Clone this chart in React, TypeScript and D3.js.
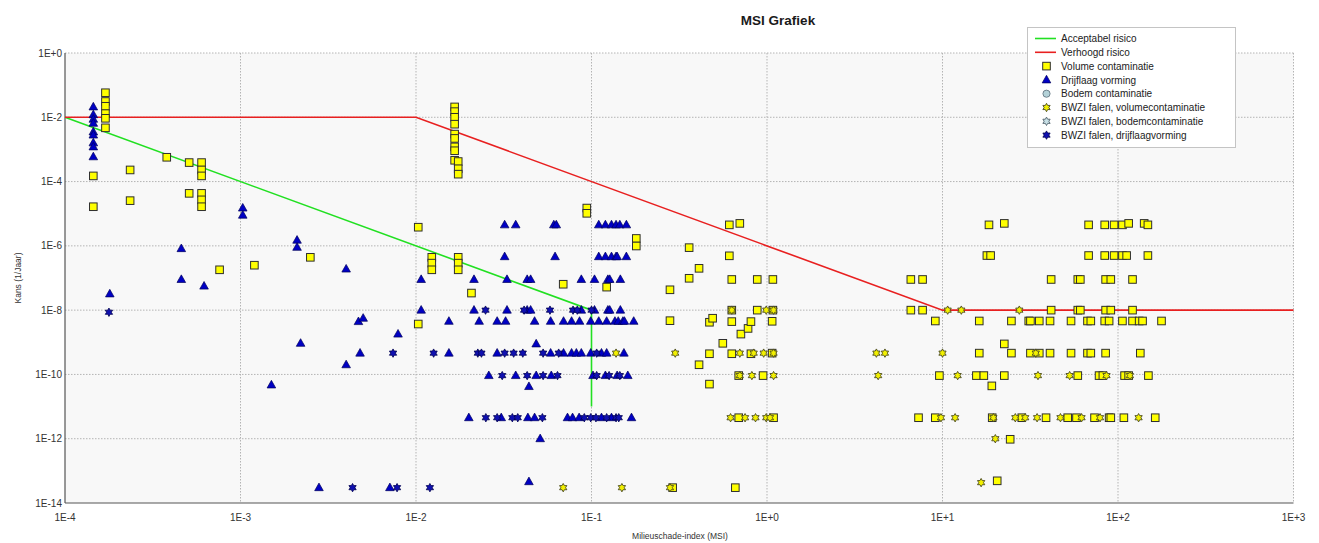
import React from "react";
import * as d3 from "d3";

// MSI grafiek: kans (1/jaar) tegen milieuschade-index, beide as log-schaal
const X_TICKS = [1e-4, 1e-3, 1e-2, 1e-1, 1e0, 1e1, 1e2, 1e3];
const X_LABELS = ["1E-4", "1E-3", "1E-2", "1E-1", "1E+0", "1E+1", "1E+2", "1E+3"];
const Y_TICKS = [1, 1e-2, 1e-4, 1e-6, 1e-8, 1e-10, 1e-12, 1e-14];
const Y_LABELS = ["1E+0", "1E-2", "1E-4", "1E-6", "1E-8", "1E-10", "1E-12", "1E-14"];

const ACCEPTABEL = [[1e-4, 1e-2], [1e-1, 1e-8], [1e-1, 1e-11]];
const VERHOOGD = [[1e-4, 1e-2], [1e-2, 1e-2], [10, 1e-8], [1e3, 1e-8]];

const VOLUME = [
  [1.7e-4, 5.8e-2], [1.7e-4, 3.1e-2], [1.7e-4, 2.2e-2], [1.7e-4, 1.3e-2], [1.7e-4, 9.3e-3], [1.7e-4, 4.7e-3],
  [1.45e-4, 1.5e-4], [1.45e-4, 1.65e-5], [2.35e-4, 2.3e-4], [2.35e-4, 2.55e-5], [3.8e-4, 5.7e-4],
  [5.1e-4, 3.9e-4], [5.1e-4, 4.3e-5], [6.0e-4, 3.9e-4], [6.0e-4, 2.3e-4], [6.0e-4, 1.5e-4],
  [6.0e-4, 4.3e-5], [6.0e-4, 2.7e-5], [6.0e-4, 1.65e-5],
  [7.6e-4, 1.8e-7], [1.2e-3, 2.5e-7], [2.5e-3, 4.4e-7],
  [1.03e-2, 3.8e-6], [1.03e-2, 3.7e-9],
  [1.23e-2, 4.4e-7], [1.23e-2, 2.9e-7], [1.23e-2, 1.8e-7],
  [1.74e-2, 4.4e-7], [1.74e-2, 2.9e-7], [1.74e-2, 1.8e-7],
  [1.66e-2, 2.1e-2], [1.66e-2, 1.5e-2], [1.66e-2, 1.0e-2], [1.66e-2, 6.1e-3], [1.66e-2, 3.0e-3],
  [1.66e-2, 2.2e-3], [1.66e-2, 1.2e-3], [1.66e-2, 9.1e-4], [1.66e-2, 4.6e-4],
  [1.74e-2, 4.2e-4], [1.74e-2, 2.5e-4], [1.74e-2, 1.7e-4],
  [2.07e-2, 3.4e-8], [6.9e-2, 6.4e-8], [9.4e-2, 1.5e-5], [9.4e-2, 1.03e-5],
  [0.122, 5.2e-8], [0.18, 1.7e-6], [0.18, 9.9e-7], [0.28, 4.3e-8], [0.28, 4.7e-9],
  [0.36, 8.8e-7], [0.36, 9.8e-8], [0.41, 2.0e-7], [0.41, 2.0e-10],
  [0.47, 4.2e-9], [0.47, 4.4e-10], [0.47, 5e-11], [0.49, 5.6e-9], [0.56, 9.3e-10],
  [0.61, 4.5e-6], [0.61, 4.9e-7], [0.70, 5.0e-6],
  [0.63, 9e-8], [0.63, 1e-8], [0.63, 4.4e-9], [0.63, 4.4e-10],
  [0.71, 1.8e-9], [0.78, 2.7e-9], [0.81, 4.4e-9], [0.81, 4.4e-10],
  [0.69, 9.2e-11], [0.69, 4.5e-12], [0.66, 3e-14], [0.29, 3e-14],
  [0.88, 9e-8], [0.88, 1e-8], [0.95, 9.2e-11],
  [1.08, 9e-8], [1.08, 1e-8], [1.07, 4.5e-9], [1.07, 4.6e-10], [1.09, 4.5e-12],
  [6.6, 9e-8], [6.6, 1e-8], [7.7, 9e-8], [7.7, 1e-8], [9.1, 4.6e-9], [9.1, 4.5e-12], [7.3, 4.5e-12],
  [9.6, 9.2e-11],
  [16.2, 4.6e-9], [16.2, 4.6e-10], [15.6, 9.2e-11], [17.2, 9.2e-11],
  [17.9, 5e-7], [18.8, 5e-7], [18.4, 4.5e-6], [22.5, 5e-6], [22.5, 8.9e-10], [22.5, 9.2e-11],
  [19.1, 4.4e-11], [19.2, 4.5e-12], [24.3, 9.6e-13], [20.5, 4.9e-14],
  [24.7, 4.6e-9], [24.7, 4.6e-10], [28.3, 4.5e-12],
  [31, 4.6e-9], [31.7, 4.6e-9], [31.7, 4.6e-10],
  [35.6, 4.6e-9], [35.6, 4.6e-10], [38.9, 4.5e-12],
  [41, 4.6e-9], [41, 4.6e-10], [41.6, 9e-8], [41.6, 1e-8],
  [51.7, 4.5e-12], [54, 4.6e-9], [54, 4.6e-10], [58, 4.5e-12],
  [59, 9e-8], [59, 1e-8], [59, 9.2e-11], [61, 9e-8], [61, 1e-8],
  [67, 4.6e-9], [67, 4.6e-10], [68, 4.5e-6], [68, 5e-7], [70, 4.6e-9], [70, 4.6e-10],
  [73.5, 4.5e-12], [78, 9.2e-11], [82, 9.2e-11],
  [84, 4.5e-6], [84, 5e-7], [84, 4.6e-9], [85, 4.6e-10], [85, 9e-8], [85, 1e-8],
  [89, 4.6e-9], [89, 4.5e-12], [91, 9e-8], [91, 1e-8], [91, 4.5e-12],
  [95, 4.5e-6], [95, 5e-7],
  [106, 4.5e-6], [106, 5e-7], [106, 4.6e-9], [108, 4.5e-12], [109, 9.2e-11], [112, 5e-7],
  [115, 5e-6], [115, 9.2e-11],
  [121, 9e-8], [121, 1e-8], [121, 4.6e-9], [132, 4.6e-9], [134, 4.6e-10], [138, 4.6e-9],
  [141, 5e-6], [148, 4.5e-6], [148, 5e-7], [149, 9.2e-11], [163, 4.5e-12], [177, 4.6e-9],
];

const DRIJFLAAG = [
  [1.45e-4, 2.1e-2], [1.45e-4, 1.2e-2], [1.45e-4, 8.7e-3], [1.45e-4, 6.5e-3], [1.45e-4, 3.5e-3],
  [1.45e-4, 2.8e-3], [1.45e-4, 1.6e-3], [1.45e-4, 1.2e-3], [1.45e-4, 5.9e-4],
  [1.03e-3, 1.5e-5], [1.03e-3, 9e-6],
  [4.6e-4, 8.2e-7], [4.6e-4, 9e-8], [6.2e-4, 5.6e-8], [1.8e-4, 3.2e-8],
  [2.1e-3, 1.5e-6], [2.1e-3, 9e-7], [4.0e-3, 1.9e-7], [4.0e-3, 2e-10],
  [4.7e-3, 4.4e-9], [5.0e-3, 5.6e-9], [4.8e-3, 4.6e-10],
  [2.2e-3, 9.3e-10], [1.5e-3, 4.7e-11], [7.9e-3, 1.8e-9],
  [2.8e-3, 3e-14], [7.1e-3, 3e-14],
  // rij 4.5e-6
  [3.2e-2, 4.5e-6], [3.7e-2, 4.5e-6], [6.1e-2, 4.5e-6], [6.3e-2, 4.5e-6], [0.11, 4.5e-6],
  [0.12, 4.5e-6], [0.13, 4.5e-6], [0.138, 4.5e-6], [0.145, 4.5e-6], [0.158, 4.5e-6],
  // rij 4.6e-7
  [3.2e-2, 4.6e-7], [6.2e-2, 4.6e-7], [0.11, 4.6e-7], [0.12, 4.6e-7], [0.13, 4.6e-7],
  [0.138, 4.6e-7], [0.14, 4.6e-7], [0.158, 4.6e-7],
  // rij 9e-8
  [1.07e-2, 9e-8], [2.14e-2, 9e-8], [3.3e-2, 9e-8], [4.3e-2, 9e-8], [4.5e-2, 9e-8],
  [8.75e-2, 9e-8], [0.104, 9e-8], [0.124, 9e-8], [0.127, 9e-8], [0.146, 9e-8],
  // rij 1e-8
  [1.07e-2, 1e-8], [2.14e-2, 1e-8], [3.3e-2, 1e-8], [4.3e-2, 1e-8], [4.5e-2, 1e-8],
  [8.75e-2, 1e-8], [0.104, 1e-8], [0.124, 1e-8], [0.127, 1e-8], [0.146, 1e-8],
  // rij 4.5e-9
  [1.54e-2, 4.5e-9], [2.29e-2, 4.5e-9], [2.9e-2, 4.5e-9], [3.24e-2, 4.5e-9], [4.74e-2, 4.5e-9],
  [5.85e-2, 4.5e-9], [6.93e-2, 4.5e-9], [7.7e-2, 4.5e-9], [8.55e-2, 4.5e-9], [9.9e-2, 4.5e-9],
  [0.11, 4.5e-9], [0.122, 4.5e-9], [0.136, 4.5e-9], [0.142, 4.5e-9], [0.151, 4.5e-9],
  [0.154, 4.5e-9], [0.174, 4.5e-9],
  // rij 4.6e-10
  [1.54e-2, 4.6e-10], [2.9e-2, 4.6e-10], [5.85e-2, 4.6e-10], [6.93e-2, 4.6e-10], [7.7e-2, 4.6e-10],
  [8.2e-2, 4.6e-10], [8.75e-2, 4.6e-10], [9.9e-2, 4.6e-10], [0.114, 4.6e-10], [0.122, 4.6e-10],
  [0.153, 4.6e-10], [4.84e-2, 8.9e-10],
  // rij 9.2e-11
  [2.6e-2, 9.2e-11], [3.7e-2, 9.2e-11], [4.84e-2, 9.2e-11], [5.9e-2, 9.2e-11], [0.102, 9.2e-11],
  [0.12, 9.2e-11], [0.14, 9.2e-11], [0.161, 9.2e-11], [4.4e-2, 4.2e-11],
  // rij 4.5e-12
  [2.0e-2, 4.5e-12], [3.06e-2, 4.5e-12], [4.34e-2, 4.5e-12], [4.74e-2, 4.5e-12], [7.3e-2, 4.5e-12],
  [7.8e-2, 4.5e-12], [8.5e-2, 4.5e-12], [0.114, 4.5e-12], [0.13, 4.5e-12], [0.169, 4.5e-12],
  [5.1e-2, 1e-12], [4.4e-2, 4.6e-14],
];

const BODEM: number[][] = [];
const BWZI_BODEM: number[][] = [];

const BWZI_VOLUME = [
  [0.63, 1e-8], [0.99, 1e-8], [1.09, 1e-8], [10.7, 1e-8], [12.8, 1e-8], [27.4, 1e-8],
  [0.138, 4.6e-10], [0.30, 4.6e-10], [0.70, 4.6e-10], [0.84, 4.6e-10], [0.957, 4.6e-10],
  [1.09, 4.6e-10], [4.2, 4.6e-10], [4.7, 4.6e-10], [10, 4.6e-10], [34, 4.6e-10],
  [0.70, 9.2e-11], [0.82, 9.2e-11], [1.09, 9.2e-11], [4.3, 9.2e-11], [12.2, 9.2e-11],
  [35, 9.2e-11], [53, 9.2e-11], [86, 9.2e-11], [117, 9.2e-11],
  [0.62, 4.5e-12], [0.75, 4.5e-12], [0.86, 4.5e-12], [0.99, 4.5e-12], [1.04, 4.5e-12],
  [9.8, 4.5e-12], [11.8, 4.5e-12], [19.5, 4.5e-12], [26, 4.5e-12], [29.6, 4.5e-12],
  [34.6, 4.5e-12], [47, 4.5e-12], [62, 4.5e-12], [79, 4.5e-12], [131, 4.5e-12],
  [20, 1e-12], [16.6, 4.3e-14], [6.9e-2, 3e-14], [0.149, 3e-14], [0.28, 3e-14],
];

const BWZI_DRIJFLAAG = [
  [1.78e-4, 8.6e-9], [7.4e-3, 4.6e-10],
  [4.35e-3, 3e-14], [7.8e-3, 3e-14], [1.2e-2, 3e-14],
  [2.49e-2, 1e-8], [4.13e-2, 1e-8], [5.8e-2, 1e-8], [7.85e-2, 1e-8], [8.3e-2, 1e-8], [0.1, 1e-8],
  [1.26e-2, 4.6e-10], [2.25e-2, 4.6e-10], [2.36e-2, 4.6e-10], [3.2e-2, 4.6e-10], [3.6e-2, 4.6e-10],
  [4.06e-2, 4.6e-10], [5.3e-2, 4.6e-10], [6.5e-2, 4.6e-10], [0.107, 4.6e-10],
  [3.1e-2, 9.2e-11], [4.3e-2, 9.2e-11], [5.3e-2, 9.2e-11], [6.4e-2, 9.2e-11], [0.107, 9.2e-11],
  [0.126, 9.2e-11], [0.145, 9.2e-11],
  [2.5e-2, 4.5e-12], [2.9e-2, 4.5e-12], [3.54e-2, 4.5e-12], [3.8e-2, 4.5e-12], [5.25e-2, 4.5e-12],
  [9.1e-2, 4.5e-12], [9.9e-2, 4.5e-12], [0.106, 4.5e-12], [0.122, 4.5e-12], [0.138, 4.5e-12],
  [0.143, 4.5e-12],
];

const W = 1319;
const H = 543;
const FONT = "'Liberation Sans', Arial, sans-serif";

function starPath(r: number) {
  const pts: string[] = [];
  for (let i = 0; i < 12; i++) {
    const a = -Math.PI / 2 + (i * Math.PI) / 6;
    const rr = i % 2 === 0 ? r : r * 0.56;
    pts.push(`${(rr * Math.cos(a)).toFixed(2)},${(rr * Math.sin(a)).toFixed(2)}`);
  }
  return "M" + pts.join("L") + "Z";
}
const STAR = starPath(4.2);
const TRI = "M0,-4.6L4.3,3L-4.3,3Z";

const MARKERS: Record<string, (k: string | number, x: number, y: number) => React.ReactNode> = {
  square: (k, x, y) => (
    <rect key={k} x={x - 3.8} y={y - 3.8} width={7.6} height={7.6} fill="#ffff00" stroke="#2e2e2e" strokeWidth={1} />
  ),
  triangle: (k, x, y) => (
    <path key={k} d={TRI} transform={`translate(${x},${y})`} fill="#0000c4" stroke="#00005a" strokeWidth={0.7} />
  ),
  circle: (k, x, y) => <circle key={k} cx={x} cy={y} r={3.6} fill="#b4d2d8" stroke="#5a6c78" strokeWidth={0.8} />,
  starYellow: (k, x, y) => (
    <path key={k} d={STAR} transform={`translate(${x},${y})`} fill="#f2f000" stroke="#4a4a20" strokeWidth={0.9} />
  ),
  starLight: (k, x, y) => (
    <path key={k} d={STAR} transform={`translate(${x},${y})`} fill="#c8e0e6" stroke="#50626c" strokeWidth={0.9} />
  ),
  starBlue: (k, x, y) => (
    <path key={k} d={STAR} transform={`translate(${x},${y})`} fill="#1010b0" stroke="#000050" strokeWidth={0.8} />
  ),
};

const SERIES = [
  { data: VOLUME, marker: "square" },
  { data: DRIJFLAAG, marker: "triangle" },
  { data: BODEM, marker: "circle" },
  { data: BWZI_VOLUME, marker: "starYellow" },
  { data: BWZI_BODEM, marker: "starLight" },
  { data: BWZI_DRIJFLAAG, marker: "starBlue" },
];

const LEGEND = [
  { label: "Acceptabel risico", line: "#22e022" },
  { label: "Verhoogd risico", line: "#e82020" },
  { label: "Volume contaminatie", marker: "square" },
  { label: "Drijflaag vorming", marker: "triangle" },
  { label: "Bodem contaminatie", marker: "circle" },
  { label: "BWZI falen, volumecontaminatie", marker: "starYellow" },
  { label: "BWZI falen, bodemcontaminatie", marker: "starLight" },
  { label: "BWZI falen, drijflaagvorming", marker: "starBlue" },
];

export default function App() {
  const x = d3.scaleLog().domain([1e-4, 1e3]).range([65, 1293.5]);
  const y = d3.scaleLog().domain([1e-14, 1]).range([503, 53]);
  const [x0, x1] = x.range();
  const [y0, y1] = y.range();

  const line = d3.line<number[]>().x((d) => x(d[0])).y((d) => y(d[1]));

  return (
    <svg
      width={W}
      height={H}
      style={{ position: "absolute", left: 0, top: 0, background: "#fff", fontFamily: FONT }}
    >
      <text x={778} y={25} textAnchor="middle" fontSize={13.5} fontWeight="bold" fill="#1a1a1a">
        MSI Grafiek
      </text>

      {/* plotvlak */}
      <rect x={x0} y={y1} width={x1 - x0} height={y0 - y1} fill="#f8f8f8" />

      {/* rasterlijnen */}
      {X_TICKS.slice(1).map((t) => (
        <line key={"gx" + t} x1={x(t)} x2={x(t)} y1={y1} y2={y0} stroke="#b4b4b4" strokeWidth={1} strokeDasharray="1.5,1.5" />
      ))}
      {Y_TICKS.slice(0, -1).map((t) => (
        <line key={"gy" + t} x1={x0} x2={x1} y1={y(t)} y2={y(t)} stroke="#b4b4b4" strokeWidth={1} strokeDasharray="1.5,1.5" />
      ))}

      {/* assen */}
      <line x1={x0} x2={x0} y1={y1} y2={y0} stroke="#555" strokeWidth={1.2} />
      <line x1={x0} x2={x1} y1={y0} y2={y0} stroke="#555" strokeWidth={1.2} />

      {X_TICKS.map((t, i) => (
        <text key={"xl" + t} x={x(t)} y={521} textAnchor="middle" fontSize={10} fill="#333">
          {X_LABELS[i]}
        </text>
      ))}
      {Y_TICKS.map((t, i) => (
        <text key={"yl" + t} x={62} y={y(t) + 3.5} textAnchor="end" fontSize={10} fill="#333">
          {Y_LABELS[i]}
        </text>
      ))}

      <text x={680} y={539} textAnchor="middle" fontSize={8.5} fill="#333">
        Milieuschade-index (MSI)
      </text>
      <text transform="translate(21,278) rotate(-90)" textAnchor="middle" fontSize={8.5} fill="#333">
        Kans (1/Jaar)
      </text>

      {/* risicolijnen */}
      <path d={line(ACCEPTABEL) || ""} fill="none" stroke="#22e022" strokeWidth={1.6} />
      <path d={line(VERHOOGD) || ""} fill="none" stroke="#e82020" strokeWidth={1.6} />

      {/* punten */}
      {SERIES.map((s, si) => (
        <g key={"s" + si}>{s.data.map((d, i) => MARKERS[s.marker](i, x(d[0]), y(d[1])))}</g>
      ))}

      {/* legenda */}
      <g>
        <rect x={1027.5} y={27.5} width={208} height={120} fill="#fff" stroke="#c4c4c4" />
        {LEGEND.map((e, i) => {
          const ly = 38.5 + i * 13.8;
          return (
            <g key={"lg" + i}>
              {e.line ? (
                <line x1={1035} x2={1056} y1={ly} y2={ly} stroke={e.line} strokeWidth={1.6} />
              ) : (
                MARKERS[e.marker as string]("m", 1046.5, ly)
              )}
              <text x={1061} y={ly + 3.6} fontSize={10} fill="#222">
                {e.label}
              </text>
            </g>
          );
        })}
      </g>
    </svg>
  );
}
